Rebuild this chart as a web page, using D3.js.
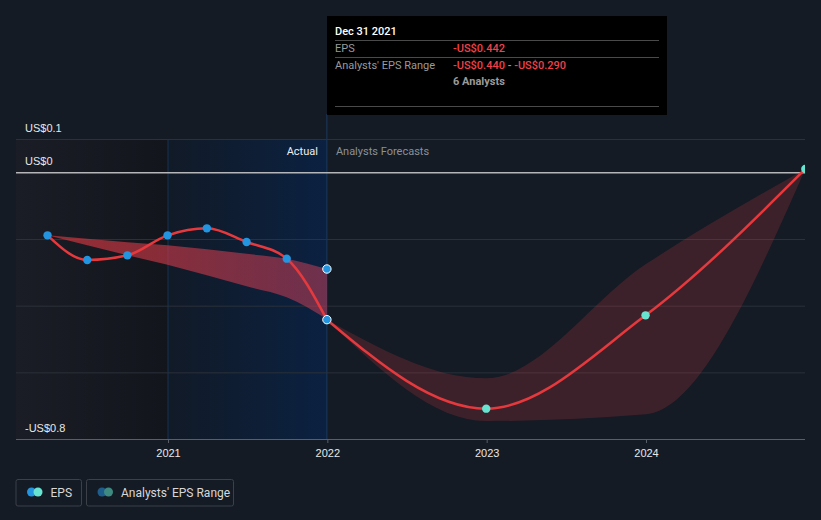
<!DOCTYPE html>
<html>
<head>
<meta charset="utf-8">
<script src="https://cdn.jsdelivr.net/npm/d3@7"></script>
<style>
  html, body { margin: 0; padding: 0; background: #151b24; }
  svg { display: block; font-family: Roboto, "Open Sans", sans-serif; }
</style>
</head>
<body>
<svg id="chart" width="821" height="520"></svg>
<script>
// ---- data ----
const pastDates = ["2020-03-31","2020-06-30","2020-09-30","2020-12-31","2021-03-31","2021-06-30","2021-09-30","2021-12-31"];
const pastEps = [-0.189,-0.263,-0.249,-0.189,-0.168,-0.209,-0.259,-0.442];
const pastRangeHigh = [-0.189,-0.1995,-0.210,-0.219,-0.231,-0.2445,-0.259,-0.290];
const pastRangeLow = [-0.189,-0.219,-0.249,-0.2775,-0.309,-0.342,-0.375,-0.440];

const forecastDates = ["2021-12-31","2022-12-31","2023-12-31","2024-12-31"];
const forecastEps = [-0.442,-0.709,-0.429,0.01];
const forecastHigh = [-0.442,-0.618,-0.276,0.01];
const forecastLow = [-0.442,-0.746,-0.726,0.01];

const xTickYears = ["2021-01-01","2022-01-01","2023-01-01","2024-01-01"];
const yGridValues = [0.1, 0, -0.2, -0.4, -0.6, -0.8];
const yLabelValues = [0.1, 0, -0.8];

const tooltipTitle = "Dec 31 2021";
const tooltipEps = "-US$0.442";
const tooltipRangeLow = "-US$0.440";
const tooltipRangeHigh = "-US$0.290";
const tooltipAnalysts = "6 Analysts";

// ---- setup ----
const parse = d3.utcParse("%Y-%m-%d");
const svg = d3.select("#chart");
const pL = 16, pR = 805, pT = 139, pB = 439;

const x = d3.scaleUtc()
  .domain([parse("2021-01-01"), parse("2024-01-01")])
  .range([168, 646]);
const y = d3.scaleLinear().domain([-0.8, 0.1]).range([pB, pT]);

const past = pastDates.map((d, i) => ({ date: parse(d), eps: pastEps[i], hi: pastRangeHigh[i], lo: pastRangeLow[i] }));
const fc = forecastDates.map((d, i) => ({ date: parse(d), eps: forecastEps[i], hi: forecastHigh[i], lo: forecastLow[i] }));

const defs = svg.append("defs");
const g1 = defs.append("linearGradient").attr("id", "pastBg").attr("x1", 0).attr("x2", 1).attr("y1", 0).attr("y2", 0);
g1.append("stop").attr("offset", 0).attr("stop-color", "#1a1d25");
g1.append("stop").attr("offset", 1).attr("stop-color", "#12151c");
const g2 = defs.append("linearGradient").attr("id", "actBg").attr("x1", 0).attr("x2", 1).attr("y1", 0).attr("y2", 0);
g2.append("stop").attr("offset", 0).attr("stop-color", "#111a27");
g2.append("stop").attr("offset", 1).attr("stop-color", "#0b2141");
const g3 = defs.append("linearGradient").attr("id", "pastBand").attr("x1", 0).attr("x2", 1).attr("y1", 0).attr("y2", 0);
g3.append("stop").attr("offset", 0).attr("stop-color", "#c0333a").attr("stop-opacity", 0.75);
g3.append("stop").attr("offset", 1).attr("stop-color", "#d0405a").attr("stop-opacity", 0.5);
defs.append("clipPath").attr("id", "plotClip").append("rect")
  .attr("x", pL).attr("y", 0).attr("width", pR - pL).attr("height", pB + 2);

const xStartActual = x(parse("2021-01-01"));
const xNow = x(parse("2021-12-31"));

// background regions
svg.append("rect").attr("x", pL).attr("y", pT).attr("width", xStartActual - pL).attr("height", pB - pT).attr("fill", "url(#pastBg)");
svg.append("rect").attr("x", xStartActual).attr("y", pT).attr("width", xNow - xStartActual).attr("height", pB - pT).attr("fill", "url(#actBg)");
svg.append("line").attr("x1", xStartActual).attr("x2", xStartActual).attr("y1", pT).attr("y2", pB).attr("stroke", "#183254").attr("stroke-width", 1);
svg.append("line").attr("x1", xNow).attr("x2", xNow).attr("y1", 114).attr("y2", pB).attr("stroke", "#1b3a5e").attr("stroke-width", 1);

// y grid + labels
const yAxis = d3.axisRight(y).tickValues(yGridValues).tickSize(pR - pL)
  .tickFormat(d => yLabelValues.some(v => Math.abs(v - d) < 1e-9)
    ? (d === 0 ? "US$0" : (d < 0 ? "-" : "") + "US$" + Math.abs(d).toFixed(1)) : "");
const gy = svg.append("g").attr("transform", `translate(${pL},0)`).call(yAxis);
gy.select(".domain").remove();
gy.selectAll(".tick line").attr("stroke", d => d === 0 ? "#b4b6ba" : "#2b313a").attr("stroke-width", d => d === 0 ? 1.5 : 1);
gy.selectAll(".tick text").attr("x", 9).attr("dy", -8).attr("fill", "#e8e8e8").attr("font-size", 11).attr("text-anchor", "start");

// x axis
const xAxis = d3.axisBottom(x).tickValues(xTickYears.map(parse)).tickFormat(d3.utcFormat("%Y")).tickSize(4).tickPadding(6);
const gx = svg.append("g").attr("transform", `translate(0,${pB})`).call(xAxis);
gx.select(".domain").attr("d", `M${pL},0.5H${pR}`).attr("stroke", "#5a5f67");
gx.selectAll(".tick line").attr("stroke", "#5a5f67");
gx.selectAll(".tick text").attr("fill", "#e8e8e8").attr("font-size", 11);

// region labels
svg.append("text").attr("x", xNow - 9).attr("y", 155).attr("text-anchor", "end").attr("fill", "#eeeeee").attr("font-size", 11).text("Actual");
svg.append("text").attr("x", xNow + 9).attr("y", 155).attr("fill", "#8b9097").attr("font-size", 11).text("Analysts Forecasts");

// bands and lines
const plot = svg.append("g").attr("clip-path", "url(#plotClip)");
const area = d3.area().x(d => x(d.date)).y0(d => y(d.lo)).y1(d => y(d.hi)).curve(d3.curveMonotoneX);
const line = d3.line().x(d => x(d.date)).y(d => y(d.eps)).curve(d3.curveMonotoneX);

plot.append("path").datum(fc).attr("d", area).attr("fill", "#e03a45").attr("fill-opacity", 0.2);
plot.append("path").datum(past).attr("d", area).attr("fill", "url(#pastBand)");
plot.append("path").datum(past).attr("d", line).attr("fill", "none").attr("stroke", "#e5393d").attr("stroke-width", 2.5);
plot.append("path").datum(fc).attr("d", line).attr("fill", "none").attr("stroke", "#e5393d").attr("stroke-width", 2.5);

// points
const lastIdx = past.length - 1;
plot.selectAll(".pp").data(past.slice(0, lastIdx)).join("circle")
  .attr("cx", d => x(d.date)).attr("cy", d => y(d.eps)).attr("r", 4.2).attr("fill", "#2394e0");
plot.selectAll(".pe").data([past[lastIdx].hi, past[lastIdx].eps]).join("circle")
  .attr("cx", x(past[lastIdx].date)).attr("cy", d => y(d)).attr("r", 4.2)
  .attr("fill", "#2394e0").attr("stroke", "#ffffff").attr("stroke-width", 1);
plot.selectAll(".fp").data(fc.slice(1)).join("circle")
  .attr("cx", d => x(d.date)).attr("cy", d => y(d.eps)).attr("r", 4.2).attr("fill", "#67e4d1");

// tooltip
const tt = svg.append("g");
tt.append("rect").attr("x", 327).attr("y", 16).attr("width", 340).attr("height", 99).attr("fill", "#000000");
tt.append("text").attr("x", 335).attr("y", 35).attr("fill", "#ffffff").attr("font-size", 11).attr("font-weight", 500).text(tooltipTitle);
[40.5, 57.5, 106.5].forEach(yy => tt.append("line").attr("x1", 335).attr("x2", 659).attr("y1", yy).attr("y2", yy).attr("stroke", "#4a4a4a"));
tt.append("text").attr("x", 335).attr("y", 52).attr("fill", "#9a9a9a").attr("font-size", 11).text("EPS");
tt.append("text").attr("x", 453).attr("y", 52).attr("fill", "#f0404a").attr("font-size", 11).attr("font-weight", 500).text(tooltipEps);
tt.append("text").attr("x", 335).attr("y", 68.5).attr("fill", "#9a9a9a").attr("font-size", 11).text("Analysts' EPS Range");
const rt = tt.append("text").attr("x", 453).attr("y", 68.5).attr("font-size", 11).attr("font-weight", 500);
rt.append("tspan").attr("fill", "#f0404a").text(tooltipRangeLow);
rt.append("tspan").attr("fill", "#9a9a9a").text(" - ");
rt.append("tspan").attr("fill", "#f0404a").text(tooltipRangeHigh);
tt.append("text").attr("x", 453).attr("y", 84.5).attr("fill", "#9a9a9a").attr("font-size", 11).attr("font-weight", 700).text(tooltipAnalysts);

// legend
const legendItems = [
  { label: "EPS", c1: "#2394e0", c2: "#67e4d1", x: 16, w: 65.5 },
  { label: "Analysts' EPS Range", c1: "#1d5d8c", c2: "#3e8a80", x: 86.5, w: 147 }
];
const lg = svg.append("g").selectAll("g").data(legendItems).join("g").attr("transform", d => `translate(${d.x},479.5)`);
lg.append("rect").attr("width", d => d.w).attr("height", 26.5).attr("rx", 2).attr("fill", "none").attr("stroke", "#3b4049");
lg.append("circle").attr("cx", 15.5).attr("cy", 12.5).attr("r", 4.5).attr("fill", d => d.c1);
lg.append("circle").attr("cx", 22).attr("cy", 12.5).attr("r", 4.5).attr("fill", d => d.c2);
lg.append("text").attr("x", 34.5).attr("y", 17).attr("fill", "#d8d8d8").attr("font-size", 12).text(d => d.label);
</script>
</body>
</html>
